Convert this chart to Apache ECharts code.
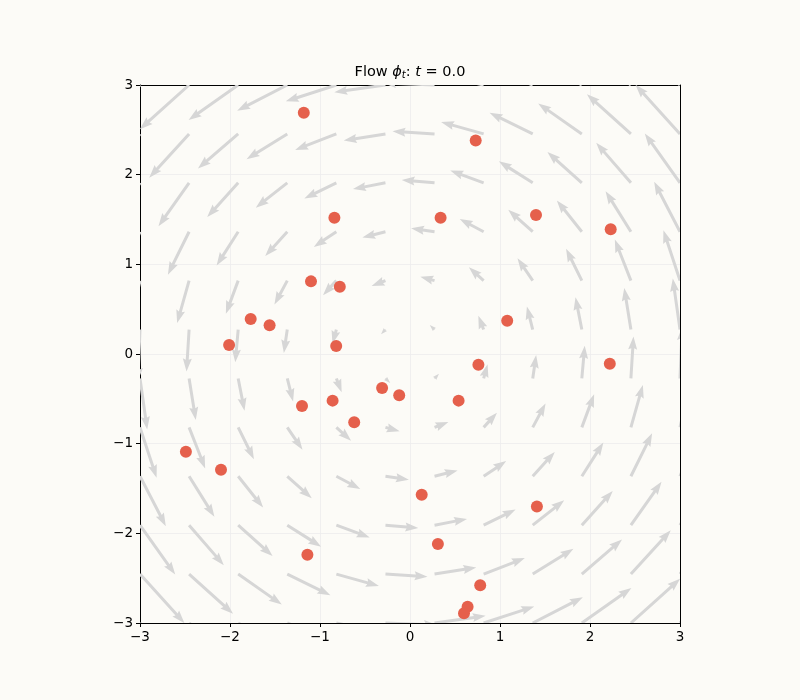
<!DOCTYPE html>
<html>
<head>
<meta charset="utf-8">
<script src="https://cdn.jsdelivr.net/npm/echarts@6/dist/echarts.min.js"></script>
<style>html,body{margin:0;padding:0;background:#fcfbf7;}#c{width:800px;height:700px;}</style>
</head>
<body>
<div id="c"></div>
<script>
// grid positions of the quiver arrows (tails)
const gridX = [-3, -2.4545, -1.9091, -1.3636, -0.8182, -0.2727, 0.2727, 0.8182, 1.3636, 1.9091, 2.4545, 3];
const gridY = [-3, -2.4545, -1.9091, -1.3636, -0.8182, -0.2727, 0.2727, 0.8182, 1.3636, 1.9091, 2.4545, 3];
// field x-components, rows follow gridY, columns follow gridX
const fieldU = [
  [3.15, 3.12, 3.10, 3.07, 3.04, 3.01, 2.99, 2.96, 2.93, 2.90, 2.88, 2.85],
  [2.60, 2.57, 2.55, 2.52, 2.49, 2.46, 2.44, 2.41, 2.38, 2.35, 2.33, 2.30],
  [2.06, 2.03, 2.01, 1.98, 1.95, 1.92, 1.90, 1.87, 1.84, 1.81, 1.79, 1.76],
  [1.51, 1.48, 1.46, 1.43, 1.40, 1.37, 1.35, 1.32, 1.29, 1.26, 1.24, 1.21],
  [0.97, 0.94, 0.92, 0.89, 0.86, 0.83, 0.81, 0.78, 0.75, 0.72, 0.70, 0.67],
  [0.42, 0.39, 0.37, 0.34, 0.31, 0.28, 0.26, 0.23, 0.20, 0.17, 0.15, 0.12],
  [-0.12, -0.15, -0.17, -0.20, -0.23, -0.26, -0.28, -0.31, -0.34, -0.37, -0.39, -0.42],
  [-0.67, -0.70, -0.72, -0.75, -0.78, -0.81, -0.83, -0.86, -0.89, -0.92, -0.94, -0.97],
  [-1.21, -1.24, -1.26, -1.29, -1.32, -1.35, -1.37, -1.40, -1.43, -1.46, -1.48, -1.51],
  [-1.76, -1.79, -1.81, -1.84, -1.87, -1.90, -1.92, -1.95, -1.98, -2.01, -2.03, -2.06],
  [-2.30, -2.33, -2.35, -2.38, -2.41, -2.44, -2.46, -2.49, -2.52, -2.55, -2.57, -2.60],
  [-2.85, -2.88, -2.90, -2.93, -2.96, -2.99, -3.01, -3.04, -3.07, -3.10, -3.12, -3.15]
];
// field y-components
const fieldV = [
  [-2.85, -2.30, -1.76, -1.21, -0.67, -0.12, 0.42, 0.97, 1.51, 2.06, 2.60, 3.15],
  [-2.88, -2.33, -1.79, -1.24, -0.70, -0.15, 0.39, 0.94, 1.48, 2.03, 2.57, 3.12],
  [-2.90, -2.35, -1.81, -1.26, -0.72, -0.17, 0.37, 0.92, 1.46, 2.01, 2.55, 3.10],
  [-2.93, -2.38, -1.84, -1.29, -0.75, -0.20, 0.34, 0.89, 1.43, 1.98, 2.52, 3.07],
  [-2.96, -2.41, -1.87, -1.32, -0.78, -0.23, 0.31, 0.86, 1.40, 1.95, 2.49, 3.04],
  [-2.99, -2.44, -1.90, -1.35, -0.81, -0.26, 0.28, 0.83, 1.37, 1.92, 2.46, 3.01],
  [-3.01, -2.46, -1.92, -1.37, -0.83, -0.28, 0.26, 0.81, 1.35, 1.90, 2.44, 2.99],
  [-3.04, -2.49, -1.95, -1.40, -0.86, -0.31, 0.23, 0.78, 1.32, 1.87, 2.41, 2.96],
  [-3.07, -2.52, -1.98, -1.43, -0.89, -0.34, 0.20, 0.75, 1.29, 1.84, 2.38, 2.93],
  [-3.10, -2.55, -2.01, -1.46, -0.92, -0.37, 0.17, 0.72, 1.26, 1.81, 2.35, 2.90],
  [-3.12, -2.57, -2.03, -1.48, -0.94, -0.39, 0.15, 0.70, 1.24, 1.79, 2.33, 2.88],
  [-3.15, -2.60, -2.06, -1.51, -0.96, -0.42, 0.12, 0.67, 1.21, 1.76, 2.30, 2.85]
];
// particle positions
const pointX = [-1.18, 0.73, -0.84, 0.34, 1.40, 2.23, -1.10, -0.78, -1.77, -1.56, -2.01, -0.82, 1.08, 0.76, 2.22,
                -0.31, -0.12, 0.54, -1.20, -0.86, -0.62, -2.49, -2.10, 0.13, 1.41, 0.31, -1.14, 0.78, 0.64, 0.60];
const pointY = [2.69, 2.38, 1.52, 1.52, 1.55, 1.39, 0.81, 0.75, 0.39, 0.32, 0.10, 0.09, 0.37, -0.12, -0.11,
                -0.38, -0.46, -0.52, -0.58, -0.52, -0.76, -1.09, -1.29, -1.57, -1.70, -2.12, -2.24, -2.58, -2.82, -2.89];
const axisTicks = [-3, -2, -1, 0, 1, 2, 3];
const titleTime = '0.0';

const quiverData = [];
for (let i = 0; i < gridY.length; i++) {
  for (let j = 0; j < gridX.length; j++) {
    quiverData.push([gridX[j], gridY[i], fieldU[i][j], fieldV[i][j]]);
  }
}
const scatterData = pointX.map((x, k) => [x, pointY[k]]);

const ARROW_SCALE = 0.19;   // data units per field unit
const HW = 1.5, HH = 4.5, HL = 13, HAL = 11.7;

function renderArrow(params, api) {
  const x = api.value(0), y = api.value(1), u = api.value(2), v = api.value(3);
  const p0 = api.coord([x, y]);
  const p1 = api.coord([x + ARROW_SCALE * u, y + ARROW_SCALE * v]);
  const dx = p1[0] - p0[0], dy = p1[1] - p0[1];
  let L = Math.sqrt(dx * dx + dy * dy);
  if (L < 0.5) return null;
  const c = dx / L, s = dy / L;
  let local;
  if (L >= HL) {
    local = [[0, -HW], [L - HAL, -HW], [L - HL, -HH], [L, 0], [L - HL, HH], [L - HAL, HW], [0, HW]];
  } else {
    const k = L / HL;
    local = [[0, -HW], [HL - HAL, -HW], [0, -HH], [HL, 0], [0, HH], [HL - HAL, HW], [0, HW]]
      .map(p => [p[0] * k, p[1] * k]);
  }
  const pts = local.map(p => [p0[0] + p[0] * c - p[1] * s, p0[1] + p[0] * s + p[1] * c]);
  return {
    type: 'polygon',
    shape: { points: pts },
    style: { fill: '#d6d6d6', stroke: null }
  };
}

const minus = v => String(v).replace('-', '\u2212');

const chart = echarts.init(document.getElementById('c'), null, { renderer: 'canvas' });
chart.setOption({
  backgroundColor: '#fcfbf7',
  animation: false,
  title: {
    text: '{n|Flow }{i|\u03d5}{s|t}{n|: }{i|t}{n| = ' + titleTime + '}',
    left: 405,
    top: 59,
    textAlign: 'center',
    textStyle: {
      fontWeight: 'normal',
      rich: {
        n: { fontFamily: 'DejaVu Sans', fontWeight: 'normal', fontSize: 14.5, color: '#000' },
        i: { fontFamily: 'DejaVu Sans', fontWeight: 'normal', fontStyle: 'italic', fontSize: 14.5, color: '#000' },
        s: { fontFamily: 'DejaVu Sans', fontWeight: 'normal', fontStyle: 'italic', fontSize: 10, color: '#000', verticalAlign: 'bottom', padding: [6, 0, 0, 0] }
      }
    }
  },
  grid: { left: 140, right: 120, top: 85, bottom: 77 },
  xAxis: [{
    type: 'value', min: -3, max: 3, interval: 1, position: 'bottom',
    axisLine: { onZero: false, lineStyle: { color: '#000', width: 1 } },
    axisTick: { show: true, length: 4, lineStyle: { color: '#000' } },
    axisLabel: { color: '#000', fontSize: 13.5, fontFamily: 'DejaVu Sans', margin: 7, formatter: minus,
                 customValues: axisTicks },
    splitLine: { show: true, lineStyle: { color: '#ececec', width: 0.8 } }
  }, {
    type: 'value', min: -3, max: 3, position: 'top',
    axisLine: { onZero: false, lineStyle: { color: '#000', width: 1 } },
    axisTick: { show: false }, axisLabel: { show: false }, splitLine: { show: false }
  }],
  yAxis: [{
    type: 'value', min: -3, max: 3, interval: 1, position: 'left',
    axisLine: { onZero: false, lineStyle: { color: '#000', width: 1 } },
    axisTick: { show: true, length: 4, lineStyle: { color: '#000' } },
    axisLabel: { color: '#000', fontSize: 13.5, fontFamily: 'DejaVu Sans', margin: 7, formatter: minus },
    splitLine: { show: true, lineStyle: { color: '#ececec', width: 0.8 } }
  }, {
    type: 'value', min: -3, max: 3, position: 'right',
    axisLine: { onZero: false, lineStyle: { color: '#000', width: 1 } },
    axisTick: { show: false }, axisLabel: { show: false }, splitLine: { show: false }
  }],
  series: [{
    type: 'custom',
    renderItem: renderArrow,
    data: quiverData,
    clip: true,
    z: 2,
    silent: true
  }, {
    type: 'scatter',
    data: scatterData,
    symbolSize: 12,
    itemStyle: { color: '#e5604c', opacity: 1 },
    z: 3,
    silent: true
  }]
});
</script>
</body>
</html>
